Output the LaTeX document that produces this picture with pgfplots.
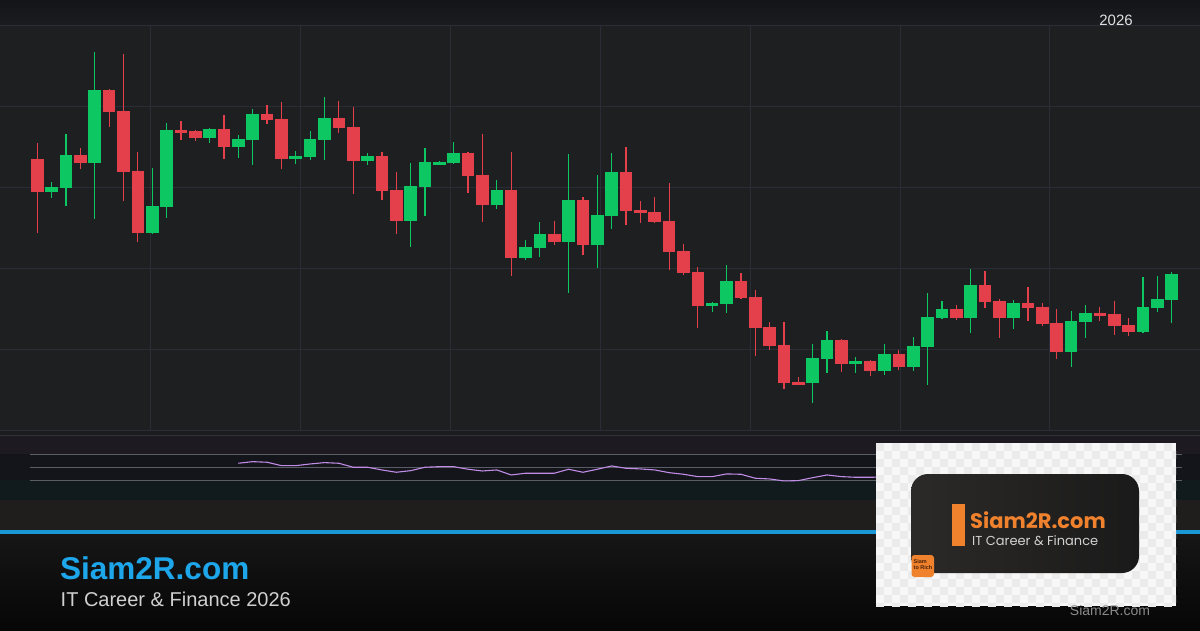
\documentclass[border=0pt]{standalone}
\usepackage{pgfplots}
\pgfplotsset{compat=1.18}
\usepackage{pgfplotstable}
\usepackage{fontspec}
\setmainfont{Liberation Sans}
\newfontfamily\pop{Poppins}

\definecolor{bg}{HTML}{1E1F21}
\definecolor{topA}{HTML}{141518}
\definecolor{topB}{HTML}{1B1C1F}
\definecolor{gridc}{HTML}{2A2D36}
\definecolor{upc}{HTML}{0CC762}
\definecolor{dnc}{HTML}{E3404B}
\definecolor{sepc}{HTML}{1B1C20}
\definecolor{sepl}{HTML}{30323A}
\definecolor{obband}{HTML}{1E1A22}
\definecolor{midband}{HTML}{13151B}
\definecolor{osband}{HTML}{111B1E}
\definecolor{lowband}{HTML}{1F1E1C}
\definecolor{bluel}{HTML}{1A98D5}
\definecolor{footA}{HTML}{161616}
\definecolor{footB}{HTML}{060606}
\definecolor{rsic}{HTML}{C08CE6}
\definecolor{levc}{HTML}{5A5D66}
\definecolor{brand}{HTML}{1EA6EA}
\definecolor{subt}{HTML}{D0D0D0}
\definecolor{chkA}{HTML}{F7F7F7}
\definecolor{chkB}{HTML}{EBEBEB}
\definecolor{logoA}{HTML}{2C2A28}
\definecolor{logoB}{HTML}{1A1A1A}
\definecolor{org}{HTML}{F0822E}
\definecolor{lgray}{HTML}{D2D2D2}
\definecolor{wm}{HTML}{8A8A8A}
\definecolor{tiny}{HTML}{4A2208}

% candles (i = bar index; o h l c)
\pgfplotstableread{
i o h l c
1 238 248 232 243
2 242 296 224 275
4 267 378 211 340
8 197 262 196 224
9 223 307 212 300
12 292 302 287 301
14 283 295 272 291
15 290 321 265 316
18 271 279 266 274
19 273 299 270 291
20 290 333 270 312
23 269 277 265 274
26 209 267 183 244
27 243 282 214 268
28 265 269 265 268
29 267 288 266 277
32 225 250 221 240
34 172 190 170 183
35 182 208 173 196
37 188 276 137 230
39 185 255 162 215
40 214 277 201 258
47 124 128 118 127
48 126 165 117 149
54 47 86 27 72
55 71 99 57 90
57 66 73 57 69
59 59 86 55 76
61 63 93 59 84
62 83 137 45 113
63 112 129 111 121
65 112 161 97 145
68 112 130 101 127
72 78 119 63 109
73 108 125 92 117
77 98 153 97 123
78 122 154 118 131
79 130 158 107 156
}\upt

\pgfplotstableread{
i o h l c
0 271 287 197 238
3 275 282 261 267
5 340 341 303 318
6 319 376 229 258
7 259 278 188 197
10 300 309 290 297
11 299 300 289 292
13 301 315 271 283
16 316 325 306 310
17 311 328 261 271
21 312 329 297 302
22 303 323 236 269
24 274 278 230 239
25 240 258 196 209
30 277 278 237 254
31 255 296 208 225
33 240 278 154 172
36 196 209 185 188
38 230 233 175 185
41 258 283 205 219
42 220 229 207 217
43 218 233 207 208
44 209 247 160 178
45 179 186 155 157
46 158 163 102 124
49 149 157 131 132
50 133 140 74 102
51 103 108 80 84
52 85 108 41 47
53 48 53 45 45
56 90 91 58 66
58 69 70 54 59
60 76 80 60 63
64 121 125 110 112
66 145 159 122 128
67 129 131 92 112
69 127 143 109 122
70 123 127 104 106
71 107 121 71 78
74 117 123 109 114
75 116 129 95 104
76 105 112 94 98
}\dnt

\pgfplotstableread{
i r
14 56.2
15 58.7
16 57.8
17 52.5
18 52.5
19 55.1
20 57.2
21 56.2
22 50.0
23 50.0
24 45.8
25 42.2
26 44.7
27 50.0
28 50.9
29 50.9
30 46.9
31 44.2
32 45.8
33 38.0
34 40.7
35 40.7
36 40.7
37 46.9
38 42.2
39 46.9
40 52.0
41 48.4
42 47.4
43 45.8
44 41.6
45 39.1
46 35.4
47 35.4
48 39.6
49 39.1
50 32.9
51 31.8
52 28.7
53 29.2
54 33.8
55 38.0
56 35.4
57 34.4
58 34.4
59 34.9
}\rsit

\pgfplotsset{
  wick/.style={draw=none, mark=none,
    error bars/.cd, y dir=both, y explicit, error mark=none,
    error bar style={line width=1.2pt, draw=#1}},
  body/.style={draw=none, mark=none,
    error bars/.cd, y dir=both, y explicit, error mark=none,
    error bar style={line width=12.6pt, draw=#1}},
}

\begin{document}
\begin{tikzpicture}
% ---------- backgrounds (pixel coordinates, y downward) ----------
\begin{scope}[shift={(0pt,630pt)}, x=1pt, y=-1pt]
  \fill[bg] (0,0) rectangle (1200,630);
  \shade[top color=topA, bottom color=topB] (0,0) rectangle (1200,25);
  \fill[bg] (0,25) rectangle (1200,430);
  \fill[sepc] (0,430) rectangle (1200,435);
  \fill[obband] (0,435) rectangle (1200,454.4);
  \fill[midband] (0,454.4) rectangle (1200,480.2);
  \fill[osband] (0,480.2) rectangle (1200,500);
  \fill[lowband] (0,500) rectangle (1200,530);
  \fill[bluel] (0,530) rectangle (1200,534.3);
  \shade[top color=footA, bottom color=footB] (0,534.3) rectangle (1200,630);
  \draw[sepl, line width=0.8pt] (0,435) -- (1200,435);
\end{scope}

% ---------- candlestick chart ----------
\begin{axis}[
  at={(0pt,200pt)}, anchor=south west,
  width=1200pt, height=405pt, scale only axis,
  xmin=-2.6, xmax=80.97, ymin=0, ymax=405,
  axis line style={draw=none},
  major tick length=0pt,
  xtick={7.848,18.294,28.739,39.185,49.631,60.077,70.52},
  ytick={0,81,162,243,324,405},
  xticklabels={}, yticklabels={},
  grid=major,
  grid style={gridc, line width=0.9pt},
  clip=false,
]
\addplot[wick=upc] table[x=i,
  y expr={(\thisrow{h}+\thisrow{l})/2},
  y error plus expr={(\thisrow{h}-\thisrow{l})/2},
  y error minus expr={(\thisrow{h}-\thisrow{l})/2}] {\upt};
\addplot[wick=dnc] table[x=i,
  y expr={(\thisrow{h}+\thisrow{l})/2},
  y error plus expr={(\thisrow{h}-\thisrow{l})/2},
  y error minus expr={(\thisrow{h}-\thisrow{l})/2}] {\dnt};
\addplot[body=upc] table[x=i,
  y expr={(\thisrow{o}+\thisrow{c})/2},
  y error plus expr={abs(\thisrow{c}-\thisrow{o})/2},
  y error minus expr={abs(\thisrow{c}-\thisrow{o})/2}] {\upt};
\addplot[body=dnc] table[x=i,
  y expr={(\thisrow{o}+\thisrow{c})/2},
  y error plus expr={abs(\thisrow{c}-\thisrow{o})/2},
  y error minus expr={abs(\thisrow{c}-\thisrow{o})/2}] {\dnt};
\end{axis}

% ---------- RSI panel ----------
\begin{axis}[
  at={(0pt,130.6pt)}, anchor=south west,
  width=1200pt, height=64.3pt, scale only axis,
  xmin=-2.6, xmax=80.97, ymin=0, ymax=100,
  hide axis, clip=false,
]
\draw[levc, line width=0.9pt] (axis cs:-0.51,70) -- (axis cs:79.7,70);
\draw[levc, line width=0.9pt] (axis cs:-0.51,50) -- (axis cs:79.7,50);
\draw[levc, line width=0.9pt] (axis cs:-0.51,30) -- (axis cs:79.7,30);
\addplot[rsic, line width=1.1pt, mark=none] table[x=i, y=r] {\rsit};
\end{axis}

% ---------- texts and logo ----------
\begin{scope}[shift={(0pt,630pt)}, x=1pt, y=-1pt]
  \node[anchor=base, inner sep=0, text=white!88!black, font=\fontsize{15}{18}\selectfont] at (1116,26) {2026};

  \node[anchor=base west, inner sep=0, text=brand, font=\fontsize{31.5}{36}\selectfont\bfseries] at (60,579.3) {Siam2R.com};
  \node[anchor=base west, inner sep=0, text=subt, font=\fontsize{20}{24}\selectfont] at (60.5,606.7) {IT Career \& Finance 2026};

  % logo card
  \begin{scope}
    \clip (876,443) rectangle (1176,606);
    \fill[chkA] (876,443) rectangle (1176,606);
    \foreach \i in {0,...,37}{
      \foreach \j in {0,...,20}{
        \pgfmathtruncatemacro\k{mod(\i+\j,2)}
        \ifnum\k=0\relax
          \fill[chkB] ({876+8*\i},{443+8*\j}) rectangle ++(8,8);
        \fi
      }
    }
  \end{scope}
  \shade[left color=logoA, right color=logoB, rounded corners=17pt] (911,474) rectangle (1139,573);
  \fill[org] (952,504) rectangle (964.5,546);
  \node[anchor=base west, inner sep=0, text=org, font=\pop\bfseries\fontsize{21}{24}\selectfont] at (970,528.3) {Siam2R.com};
  \node[anchor=base west, inner sep=0, text=lgray, font=\pop\fontsize{13}{15}\selectfont] at (972,545) {IT Career \& Finance};
  \fill[org, rounded corners=3pt] (911.5,555) rectangle (934,577);
  \node[anchor=north west, inner sep=0, align=left, text=tiny, font=\bfseries\fontsize{5.5}{6}\selectfont] at (913.5,559.5) {Siam\\to Rich};

  \node[anchor=base, inner sep=0, text=wm, font=\fontsize{14}{16}\selectfont] at (1110,615) {Siam2R.com};
\end{scope}

\pgfresetboundingbox
\path[use as bounding box] (0,0) rectangle (1200pt,630pt);
\end{tikzpicture}
\end{document}
